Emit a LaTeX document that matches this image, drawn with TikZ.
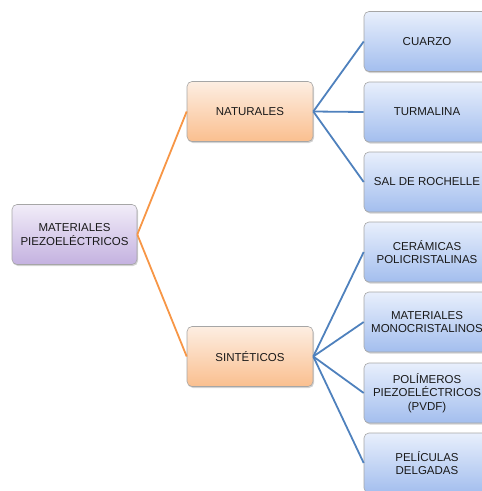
\documentclass[tikz,border=0pt]{standalone}
\usepackage{fontspec}
\setmainfont{Liberation Sans}
\usepackage{xcolor}
\usepackage{tikz}
\usetikzlibrary{shadows}

\definecolor{lilaA}{HTML}{F1ECF8}
\definecolor{lilaB}{HTML}{C4B2E0}
\definecolor{naraA}{HTML}{FDEEE2}
\definecolor{naraB}{HTML}{FABF8F}
\definecolor{azulA}{HTML}{E8EFFC}
\definecolor{azulB}{HTML}{A3BEEE}
\definecolor{ramaN}{HTML}{F79646}
\definecolor{ramaA}{HTML}{4F81BD}

\begin{document}
\begin{tikzpicture}[x=1pt, y=-1pt,
  caja/.style={draw=gray!70, line width=0.6pt, rounded corners=5pt,
    minimum width=126pt, minimum height=60pt, align=center,
    font=\fontsize{11.5}{13.5}\selectfont, text=black!90,
    drop shadow={shadow xshift=1pt, shadow yshift=-1.5pt, opacity=0.35}},
  raiz/.style={caja, top color=lilaA, bottom color=lilaB, minimum width=125pt},
  medio/.style={caja, top color=naraA, bottom color=naraB},
  hoja/.style={caja, top color=azulA, bottom color=azulB},
  ramaR/.style={draw=ramaN, line width=1.8pt},
  ramaH/.style={draw=ramaA, line width=1.8pt}]

  % page size
  \useasboundingbox (0,0) rectangle (482,491);

  % raiz
  \node[raiz] (mat) at (74.5,234.5) {MATERIALES\\PIEZOELÉCTRICOS};

  % segundo nivel
  \node[medio] (nat) at (250,111.5) {NATURALES};
  \node[medio] (sin) at (250,356.5) {SINTÉTICOS};

  % hojas naturales
  \node[hoja] (cua) at (427,41.5) {CUARZO};
  \node[hoja] (tur) at (427,112) {TURMALINA};
  \node[hoja] (sal) at (427,182) {SAL DE ROCHELLE};

  % hojas sinteticos
  \node[hoja] (cer) at (427,252) {CERÁMICAS\\POLICRISTALINAS};
  \node[hoja] (mon) at (427,322) {MATERIALES\\MONOCRISTALINOS};
  \node[hoja] (pol) at (427,393) {POLÍMEROS\\PIEZOELÉCTRICOS\\(PVDF)};
  \node[hoja] (pel) at (427,463) {PELÍCULAS\\DELGADAS};

  % ramas
  \draw[ramaR] (mat.east) -- (nat.west);
  \draw[ramaR] (mat.east) -- (sin.west);

  \foreach \h in {cua,tur,sal}{
    \draw[ramaH] (nat.east) -- (\h.west);
  }
  \foreach \h in {cer,mon,pol,pel}{
    \draw[ramaH] (sin.east) -- (\h.west);
  }
\end{tikzpicture}
\end{document}
